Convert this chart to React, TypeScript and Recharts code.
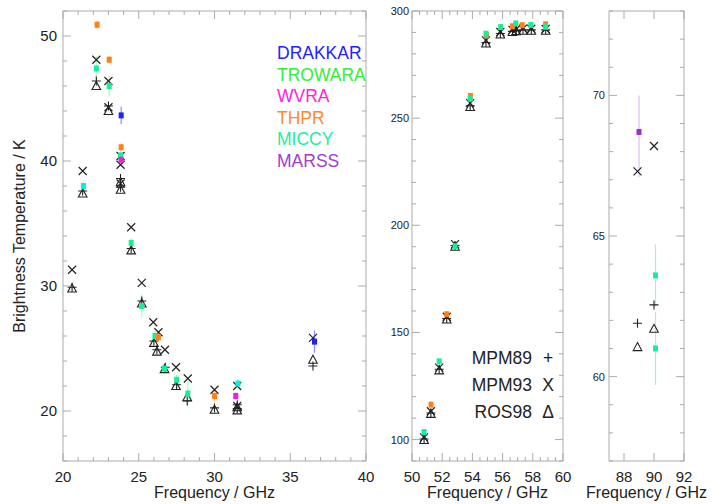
import React from 'react';
import { ScatterChart, Scatter, XAxis, YAxis, ErrorBar, ReferenceArea } from 'recharts';

type Row = [number, number, (number | [number, number])?];

// ---------- 20–40 GHz (water-vapour band) ----------
const lowMpm89: Row[] = [
  [20.6, 29.9], [21.3, 37.6], [22.2, 46.4], [23.0, 44.4], [23.8, 38.6], [23.8, 37.9],
  [24.5, 33.0], [25.2, 28.8], [26.0, 25.6], [26.2, 24.9], [26.75, 23.5], [27.5, 22.1],
  [28.2, 20.8], [30.0, 20.25], [31.5, 20.5], [31.5, 20.2], [36.5, 23.6],
];
const lowMpm93: Row[] = [
  [20.6, 31.3], [21.3, 39.2], [22.2, 48.1], [23.0, 46.4], [23.0, 44.3], [23.8, 40.4],
  [23.8, 39.7], [23.8, 38.2], [24.5, 34.7], [25.2, 30.25], [25.96, 27.1], [26.3, 26.3],
  [26.73, 24.9], [27.46, 23.5], [28.24, 22.6], [30.0, 21.7], [31.5, 22.0], [31.5, 20.4],
  [36.5, 25.85],
];
const lowRos98: Row[] = [
  [20.6, 29.8], [21.3, 37.4], [22.2, 46.0], [23.0, 44.0], [23.8, 38.3], [23.8, 37.7],
  [24.5, 32.85], [25.2, 28.6], [26.0, 25.45], [26.2, 24.75], [26.7, 23.35], [27.46, 22.0],
  [28.2, 21.1], [30.0, 20.1], [31.5, 20.3], [31.5, 20.05], [36.5, 24.1],
];
const lowDrakkar: Row[] = [[23.84, 43.65, 0.7], [36.6, 25.55, 0.9]];
const lowTrowara: Row[] = [[21.35, 38.0, 0.3], [31.55, 22.2, 0.3]];
const lowWvra: Row[] = [[23.84, 40.1, 0.3], [31.4, 21.2, 0.3]];
const lowThpr: Row[] = [
  [22.25, 50.9, 0.3], [23.05, 48.1, 0.3], [23.84, 41.1, 0.3], [26.3, 25.9, 0.4], [30.0, 21.2, 0.5],
];
const lowMiccy: Row[] = [
  [22.2, 47.4, 1.0], [23.05, 46.0, 0.8], [23.8, 40.45, 0.4], [24.5, 33.45, 0.4],
  [25.2, 28.4, 0.9], [26.07, 26.0, 0.4], [26.7, 23.4, 0.4], [27.5, 22.5, 0.4], [28.24, 21.4, 1.0],
];

// ---------- 50–60 GHz (oxygen band) ----------
const midMpm89: Row[] = [
  [50.8, 100.3], [51.25, 112.4], [51.8, 132.8], [52.3, 156.5], [52.85, 190.6], [53.85, 255.8],
  [54.9, 285.3], [55.85, 289.5], [56.65, 290.5], [56.9, 290.9], [57.35, 291.2], [57.9, 291.2],
  [58.85, 291.2],
];
const midMpm93: Row[] = [
  [50.8, 101.0], [51.25, 113.2], [51.8, 133.6], [52.3, 157.3], [52.85, 191.2], [53.85, 257.0],
  [54.9, 286.3], [55.85, 290.2], [56.65, 291.2], [56.9, 291.5], [57.35, 291.8], [57.9, 291.7],
  [58.85, 291.6],
];
const midRos98: Row[] = [
  [50.8, 99.8], [51.25, 112.0], [51.8, 132.3], [52.3, 156.0], [52.85, 190.0], [53.85, 255.2],
  [54.9, 284.8], [55.85, 289.0], [56.65, 290.2], [56.9, 290.6], [57.35, 290.8], [57.9, 290.8],
  [58.85, 290.8],
];
const midThpr: Row[] = [
  [51.26, 116.3, 0.8], [52.3, 158.5, 0.8], [53.87, 260.3, 0.8], [54.94, 288.6, 0.8],
  [56.65, 292.9, 0.8], [57.3, 293.4, 0.8], [58.85, 293.8, 0.8],
];
const midMiccy: Row[] = [
  [50.8, 103.5, 0.8], [51.8, 136.5, 0.8], [52.85, 190.2, 0.8], [53.85, 259.1, 0.8],
  [54.9, 289.4, 1.0], [55.87, 292.5, 1.0], [56.87, 294.2, 1.0], [57.87, 293.5, 1.0], [58.85, 292.6, 1.0],
];

// ---------- 89/90 GHz ----------
const highMpm89: Row[] = [[88.9, 61.9], [90.0, 62.55]];
const highMpm93: Row[] = [[88.9, 67.3], [90.0, 68.2]];
const highRos98: Row[] = [[88.9, 61.05], [90.0, 61.7]];
const highMiccy: Row[] = [[90.1, 63.6, 1.1], [90.1, 61.0, 1.3]];
const highMarss: Row[] = [[89.0, 68.7, [1.6, 1.3]]];

// ---------- axes ----------
const lowXTicks = [20, 21, 22, 23, 24, 25, 26, 27, 28, 29, 30, 31, 32, 33, 34, 35, 36, 37, 38, 39, 40];
const lowYTicks = [16, 18, 20, 22, 24, 26, 28, 30, 32, 34, 36, 38, 40, 42, 44, 46, 48, 50, 52];
const midXTicks = [50, 50.5, 51, 51.5, 52, 52.5, 53, 53.5, 54, 54.5, 55, 55.5, 56, 56.5, 57, 57.5, 58, 58.5, 59, 59.5, 60];
const midYTicks = [90, 100, 110, 120, 130, 140, 150, 160, 170, 180, 190, 200, 210, 220, 230, 240, 250, 260, 270, 280, 290, 300];
const highXTicks = [88, 90, 92];
const highYTicks = [57, 58, 59, 60, 61, 62, 63, 64, 65, 66, 67, 68, 69, 70, 71, 72, 73];

const instruments = ['DRAKKAR', 'TROWARA', 'WVRA', 'THPR', 'MICCY', 'MARSS'];
const instrumentColors = ['#2222ff', '#33ee33', '#ff22dd', '#ff8a2a', '#1ceea0', '#a040d0'];
const modelNames = ['MPM89', 'MPM93', 'ROS98'];
const modelSymbols = ['+', 'X', '\u0394'];

const W = 716;
const H = 504;
const TOP = 11;
const BOTTOM = 43;
const PLOT_H = H - TOP - BOTTOM;
const FONT = '"Liberation Sans", Arial, Helvetica, sans-serif';
const FRAME = '#ababab';
const INK = '#222222';

const C = {
  drakkar: '#1f1fff', drakkarBar: '#8c8cff',
  trowara: '#00f0e6', trowaraBar: '#9ff5f0',
  wvra: '#ff1ad9', wvraBar: '#ff9cf0',
  thpr: '#ff7f1a', thprBar: '#ffc08a',
  miccy: '#14f09a', miccyBar: '#a6f5d2',
  marss: '#9a2ed0', marssBar: '#dcbff3',
};

const pts = (rows: Row[]) => rows.map(([f, t, e]) => ({ f, t, e: e ?? 0 }));

// ---------- marker shapes ----------
const Plus = (p: any) => (
  <path d={`M${p.cx - 4.5},${p.cy}H${p.cx + 4.5}M${p.cx},${p.cy - 4.5}V${p.cy + 4.5}`}
    stroke={INK} strokeWidth={1.1} fill="none" />
);
const Cross = (p: any) => (
  <path d={`M${p.cx - 4},${p.cy - 4}L${p.cx + 4},${p.cy + 4}M${p.cx - 4},${p.cy + 4}L${p.cx + 4},${p.cy - 4}`}
    stroke={INK} strokeWidth={1.2} fill="none" />
);
const Tri = (p: any) => (
  <path d={`M${p.cx},${p.cy - 4.5}L${p.cx + 4.3},${p.cy + 3.5}L${p.cx - 4.3},${p.cy + 3.5}Z`}
    stroke={INK} strokeWidth={1.1} fill="none" />
);
const square = (color: string) => (p: any) => (
  <rect x={p.cx - 2.5} y={p.cy - 3} width={5} height={6} fill={color} />
);

// ---------- tick renderers (inward ticks on all four sides) ----------
const makeXTick = (isMajor: (v: number) => boolean) => (props: any) => {
  const { x, y, payload } = props;
  const v = payload.value;
  const major = isMajor(v);
  const len = major ? 8 : 4;
  return (
    <g>
      <line x1={x} y1={y} x2={x} y2={y - len} stroke={FRAME} />
      <line x1={x} y1={y - PLOT_H} x2={x} y2={y - PLOT_H + len} stroke={FRAME} />
      {major ? (
        <text x={x} y={y + 20.5} textAnchor="middle" fontSize={15} fontFamily={FONT} fill={INK}>{v}</text>
      ) : null}
    </g>
  );
};

const makeYTick = (isMajor: (v: number) => boolean, plotW: number, fontSize: number, gap: number) => (props: any) => {
  const { x, y, payload } = props;
  const v = payload.value;
  const major = isMajor(v);
  const len = major ? 8 : 4;
  return (
    <g>
      <line x1={x} y1={y} x2={x + len} y2={y} stroke={FRAME} />
      <line x1={x + plotW} y1={y} x2={x + plotW - len} y2={y} stroke={FRAME} />
      {major ? (
        <text x={x - gap} y={y} dy="0.36em" textAnchor="end" fontSize={fontSize} fontFamily={FONT} fill={INK}>{v}</text>
      ) : null}
    </g>
  );
};

type PanelProps = {
  left: number;
  right: number;
  xDomain: [number, number];
  yDomain: [number, number];
  xTicks: number[];
  yTicks: number[];
  xMajor: (v: number) => boolean;
  yMajor: (v: number) => boolean;
  yFont: number;
  yGap: number;
  children: React.ReactNode;
};

// Each panel is a full-size chart; the margins place its plot box.
// Axes are 1px thick so that their tick renderers run; ticks sit at the plot edge.
function Panel({ left, right, xDomain, yDomain, xTicks, yTicks, xMajor, yMajor, yFont, yGap, children }: PanelProps) {
  const plotW = W - left - right;
  return (
    <div style={{ position: 'absolute', left: 0, top: 0 }}>
      <ScatterChart width={W} height={H} margin={{ top: TOP, bottom: BOTTOM - 1, left: left - 1, right }}>
        <XAxis type="number" dataKey="f" domain={xDomain} ticks={xTicks} interval={0}
          height={1} tickSize={0} tickMargin={0} axisLine={false} tickLine={false}
          allowDataOverflow tick={makeXTick(xMajor)} />
        <YAxis type="number" dataKey="t" domain={yDomain} ticks={yTicks} interval={0}
          width={1} tickSize={0} tickMargin={0} axisLine={false} tickLine={false}
          allowDataOverflow tick={makeYTick(yMajor, plotW, yFont, yGap)} />
        <ReferenceArea x1={xDomain[0]} x2={xDomain[1]} y1={yDomain[0]} y2={yDomain[1]}
          fill="none" stroke={FRAME} strokeWidth={1} ifOverflow="visible" />
        {children}
      </ScatterChart>
    </div>
  );
}

const models = (p89: Row[], p93: Row[], r98: Row[]) => [
  <Scatter key="r98" data={pts(r98)} shape={Tri} isAnimationActive={false} />,
  <Scatter key="p89" data={pts(p89)} shape={Plus} isAnimationActive={false} />,
  <Scatter key="p93" data={pts(p93)} shape={Cross} isAnimationActive={false} />,
];

const obs = (key: string, rows: Row[], color: string, bar: string) => (
  <Scatter key={key} data={pts(rows)} shape={square(color)} isAnimationActive={false}>
    <ErrorBar dataKey="e" direction="y" width={0} stroke={bar} strokeWidth={1.2} />
  </Scatter>
);

export default function App() {
  return (
    <div style={{ position: 'fixed', left: 0, top: 0, width: W, height: H, background: '#fff', overflow: 'hidden' }}>
      <Panel left={63} right={350} xDomain={[20, 40]} yDomain={[16, 52]}
        xTicks={lowXTicks} yTicks={lowYTicks}
        xMajor={(v) => v % 5 === 0} yMajor={(v) => v % 10 === 0} yFont={15} yGap={6}>
        {models(lowMpm89, lowMpm93, lowRos98)}
        {obs('miccy', lowMiccy, C.miccy, C.miccyBar)}
        {obs('thpr', lowThpr, C.thpr, C.thprBar)}
        {obs('wvra', lowWvra, C.wvra, C.wvraBar)}
        {obs('trowara', lowTrowara, C.trowara, C.trowaraBar)}
        {obs('drakkar', lowDrakkar, C.drakkar, C.drakkarBar)}
      </Panel>

      <Panel left={412} right={153} xDomain={[50, 60]} yDomain={[90, 300]}
        xTicks={midXTicks} yTicks={midYTicks}
        xMajor={(v) => v % 2 === 0} yMajor={(v) => v % 50 === 0} yFont={11} yGap={3}>
        {models(midMpm89, midMpm93, midRos98)}
        {obs('thpr', midThpr, C.thpr, C.thprBar)}
        {obs('miccy', midMiccy, C.miccy, C.miccyBar)}
      </Panel>

      <Panel left={609} right={32} xDomain={[87, 92]} yDomain={[57, 73]}
        xTicks={highXTicks} yTicks={highYTicks}
        xMajor={() => true} yMajor={(v) => v % 5 === 0} yFont={11} yGap={4}>
        {models(highMpm89, highMpm93, highRos98)}
        {obs('miccy', highMiccy, C.miccy, C.miccyBar)}
        {obs('marss', highMarss, C.marss, C.marssBar)}
      </Panel>

      <svg width={W} height={H} style={{ position: 'absolute', left: 0, top: 0, pointerEvents: 'none' }}
        fontFamily={FONT}>
        <text transform="translate(19,236) rotate(-90)" dy="0.36em" textAnchor="middle" fontSize={16} fill={INK}>
          Brightness Temperature / K
        </text>
        <text x={214.5} y={498} textAnchor="middle" fontSize={16} fill={INK}>Frequency / GHz</text>
        <text x={487.5} y={498} textAnchor="middle" fontSize={16} fill={INK}>Frequency / GHz</text>
        <text x={646.5} y={498} textAnchor="middle" fontSize={16} fill={INK}>Frequency / GHz</text>

        {instruments.map((name, i) => (
          <text key={name} x={277} y={59 + i * 21.6} fontSize={17.5} fill={instrumentColors[i]}>{name}</text>
        ))}
        {modelNames.map((name, i) => (
          <g key={name}>
            <text x={532} y={364 + i * 27} textAnchor="end" fontSize={17.5} fill={INK}>{name}</text>
            <text x={548} y={364 + i * 27} textAnchor="middle" fontSize={17.5} fill={INK}>{modelSymbols[i]}</text>
          </g>
        ))}
      </svg>
    </div>
  );
}
